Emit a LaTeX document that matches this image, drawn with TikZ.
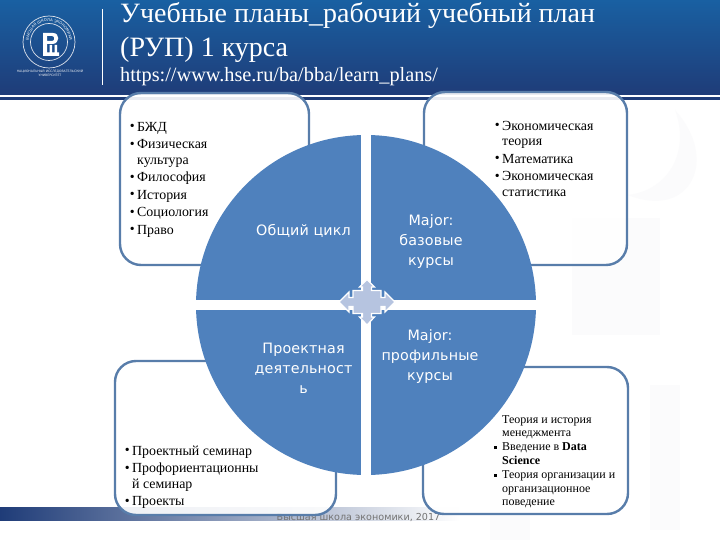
\documentclass[tikz,border=0pt]{standalone}
\usepackage{fontspec}
\setmainfont{Liberation Serif}
\newfontfamily\labelfont[LetterSpace=1]{DejaVu Sans}
\newfontfamily\plainsans{DejaVu Sans}
\usetikzlibrary{decorations.text}
\definecolor{hdrtop}{RGB}{25,96,162}
\definecolor{hdrbot}{RGB}{31,60,120}
\definecolor{pieblue}{RGB}{79,129,189}
\definecolor{boxline}{RGB}{88,125,170}
\definecolor{crossfill}{RGB}{182,196,224}
\definecolor{wmark}{RGB}{251,251,252}
\newcommand{\li}[1]{\llap{\raisebox{0.5pt}{\textbullet}\hspace{2.5pt}}#1}
\newcommand{\sq}[1]{\llap{\raisebox{1.5pt}{\rule{3pt}{3pt}}\hspace{5pt}}#1}
\tikzset{
  x=1pt,y=-1pt,
  roundbox/.style={draw=boxline,line width=2.4pt,fill=white,fill opacity=.9,rounded corners=21pt},
  titletext/.style={text=white,anchor=base west,inner sep=0pt},
  pielabel/.style={text=white,font=\fontsize{14.3}{20}\labelfont,align=center,inner sep=0pt},
  listtext/.style={anchor=north west,align=left,inner sep=0pt,text=black,font=\fontsize{13.9}{15.5}\selectfont},
  smalllist/.style={anchor=north west,align=left,inner sep=0pt,text=black,font=\fontsize{12}{13.8}\selectfont},
  wm/.style={fill=wmark,draw=none},
}
\begin{document}
\begin{tikzpicture}
\useasboundingbox (0,0) rectangle (720,540);
\fill[white] (0,0) rectangle (720,540);
% pale watermark
\fill[wm] (572,218) rectangle (660,335);
\fill[wm] (650,385) rectangle (680,530);
\fill[wm] (490,430) rectangle (530,540);
\fill[wm] (675,110) .. controls (720,160) and (690,220) .. (628,195) .. controls (670,190) and (690,150) .. (675,110);
% header and footer band
\fill[top color=hdrtop,bottom color=hdrbot] (0,0) rectangle (720,95);
\fill[hdrbot] (0,97) rectangle (720,100);
\fill[left color=hdrbot,right color=white] (0,507) rectangle (460,520);
\node[anchor=base,inner sep=0pt,text=black!55,font=\fontsize{9.6}{12}\plainsans] (foot) at (358.5,520) {Высшая школа экономики, 2017};
% logo
\draw[white!85!hdrbot,line width=.7pt] (49,42) circle[radius=26];
\draw[white!85!hdrbot,line width=.7pt] (49,42) circle[radius=18.5];
\path[postaction={decorate,decoration={text along path,text align=center,
   text={|\fontsize{3.8}{5}\plainsans\color{white}|ВЫСШАЯ ШКОЛА ЭКОНОМИКИ}}}]
   (49,42) ++(-210:20.5) arc[start angle=-210,end angle=30,radius=20.5];
\fill[white,even odd rule] (43,33) -- (53,33) .. controls (60,33) and (60,43) .. (53,44) -- (47,44) -- (47,47.5) -- (47,52.5) -- (49.5,52.5) -- (49.5,45) -- (52,45) -- (52,52.5) -- (54.5,52.5) -- (54.5,45) -- (57,45) -- (57,52.5) -- (59,52.5) -- (59,56) -- (43,56) -- cycle
   (47,36) -- (47,41) -- (52,41) .. controls (55,41) and (55,36) .. (52,36) -- cycle;
\node[anchor=base,inner sep=0pt,text=white!90!hdrbot,align=center,font=\fontsize{3.1}{4.4}\plainsans] (uni) at (50,77) {НАЦИОНАЛЬНЫЙ ИССЛЕДОВАТЕЛЬСКИЙ\\УНИВЕРСИТЕТ};
\draw[white,line width=1pt] (102,9) -- (102,85);
% titles
\node[titletext,font=\fontsize{28}{30}\selectfont] (t1) at (120,23) {Учебные планы\_рабочий учебный план};
\node[titletext,font=\fontsize{28}{30}\selectfont] (t2) at (120,57) {(РУП) 1 курса};
\node[titletext,font=\fontsize{20.3}{22}\selectfont] (t3) at (120,82) {https://www.hse.ru/ba/bba/learn\_plans/};
% rounded boxes
\path[roundbox] (120,93) rectangle (309,265);
\path[roundbox] (424,92) rectangle (627,265);
\path[roundbox] (115,361) rectangle (336,515);
\path[roundbox] (423,367) rectangle (628,514);
% pie
\begin{scope}
\clip (366,305) circle[radius=170];
\fill[pieblue] (190,130) rectangle (361,300);
\fill[pieblue] (371,130) rectangle (540,300);
\fill[pieblue] (190,310) rectangle (361,480);
\fill[pieblue] (371,310) rectangle (540,480);
\end{scope}
% central cross
\fill[crossfill,draw=white,line width=1.2pt,line join=miter]
  (367,279.5) -- (374.5,287) -- (371.5,287) -- (371.5,290.5) -- (381,290.5) -- (381,297.5) -- (385,297.5) -- (385,292) -- (395,302) -- (385,312) -- (385,306.5) -- (381,306.5) -- (381,313.5) -- (371.5,313.5) -- (371.5,317) -- (374.5,317) -- (367,325) -- (359.5,317) -- (362.5,317) -- (362.5,313.5) -- (353,313.5) -- (353,306.5) -- (349,306.5) -- (349,312) -- (339,302) -- (349,292) -- (349,297.5) -- (353,297.5) -- (353,290.5) -- (362.5,290.5) -- (362.5,287) -- (359.5,287) -- cycle;
% pie labels
\node[pielabel] (a) at (303.5,231) {Общий цикл};
\node[pielabel] (b) at (431,242) {Major:\\базовые\\курсы};
\node[pielabel] (c) at (303.5,368) {Проектная\\деятельност\\ь};
\node[pielabel] (d) at (430,357) {Major:\\профильные\\курсы};
% lists
\node[listtext] (l1) at (137,122) {\li{БЖД}\\[2pt]\li{Физическая}\\культура\\[2pt]\li{Философия}\\[2pt]\li{История}\\[2pt]\li{Социология}\\[2pt]\li{Право}};
\node[listtext] (l2) at (502,121) {\li{Экономическая}\\теория\\[2pt]\li{Математика}\\[2pt]\li{Экономическая}\\статистика};
\node[listtext] (l3) at (132,445.5) {\li{Проектный семинар}\\[2pt]\li{Профориентационны}\\й семинар\\[2pt]\li{Проекты}};
\node[smalllist] (l4) at (502,415) {Теория и история\\менеджмента\\\sq{Введение в \textbf{Data}}\\\textbf{Science}\\\sq{Теория организации и}\\организационное\\поведение};
\end{tikzpicture}
\end{document}
